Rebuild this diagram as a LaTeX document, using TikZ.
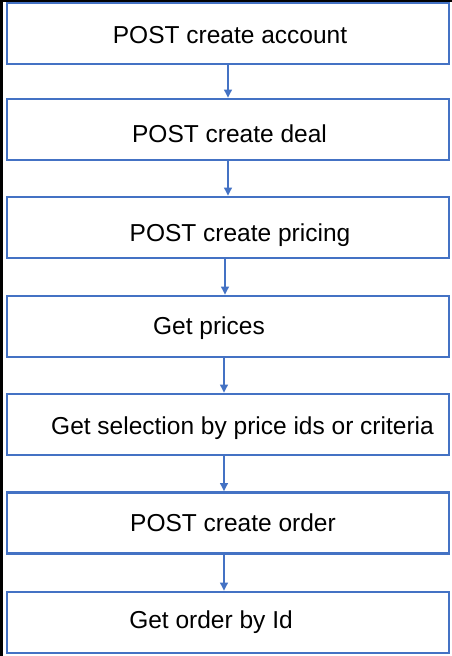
\documentclass[tikz,border=0pt]{standalone}
\usepackage{fontspec}
\setmainfont{Liberation Sans}
\usepackage{tikz}
\usetikzlibrary{arrows.meta}
\definecolor{boxblue}{RGB}{68,114,196}
\tikzset{
  stepbox/.style={draw=boxblue, line width=2.6pt, minimum width=442pt, minimum height=61pt, inner sep=0pt},
  steptext/.style={font=\fontsize{24.5}{29}\selectfont, inner sep=0pt},
  flow/.style={draw=boxblue, line width=2.2pt, -{Triangle[length=8pt,width=7.5pt]}}
}
\begin{document}
\begin{tikzpicture}[x=1pt, y=-1pt]
  \useasboundingbox (0,0) rectangle (452,656);
  \draw[line width=3pt] (1.5,656) -- (1.5,0.5) -- (452,0.5);
  \node[stepbox] (account) at (228,33.5) {};
  \node[stepbox] (deal)    at (228,129.5) {};
  \node[stepbox] (pricing) at (228,227.5) {};
  \node[stepbox] (prices)  at (228,326.5) {};
  \node[stepbox] (select)  at (228,424.5) {};
  \node[stepbox] (order)   at (228,523) {};
  \node[stepbox] (getorder) at (228,622.5) {};
  \node[steptext] at (230,35) {POST create account};
  \node[steptext] at (229.5,134) {POST create deal};
  \node[steptext] at (240,235) {POST create pricing};
  \node[steptext] at (209,328) {Get prices};
  \node[steptext] at (242.5,428) {Get selection by price ids or criteria};
  \node[steptext] at (233,523) {POST create order};
  \node[steptext] at (211,622) {Get order by Id};
  \draw[flow] (account.south) -- (deal.north);
  \draw[flow] (deal.south) -- (pricing.north);
  \draw[flow] ([xshift=-3pt]pricing.south) -- ([xshift=-3pt]prices.north);
  \draw[flow] ([xshift=-4pt]prices.south) -- ([xshift=-4pt]select.north);
  \draw[flow] ([xshift=-4pt]select.south) -- ([xshift=-4pt]order.north);
  \draw[flow] ([xshift=-4pt]order.south) -- ([xshift=-4pt]getorder.north);
\end{tikzpicture}
\end{document}
